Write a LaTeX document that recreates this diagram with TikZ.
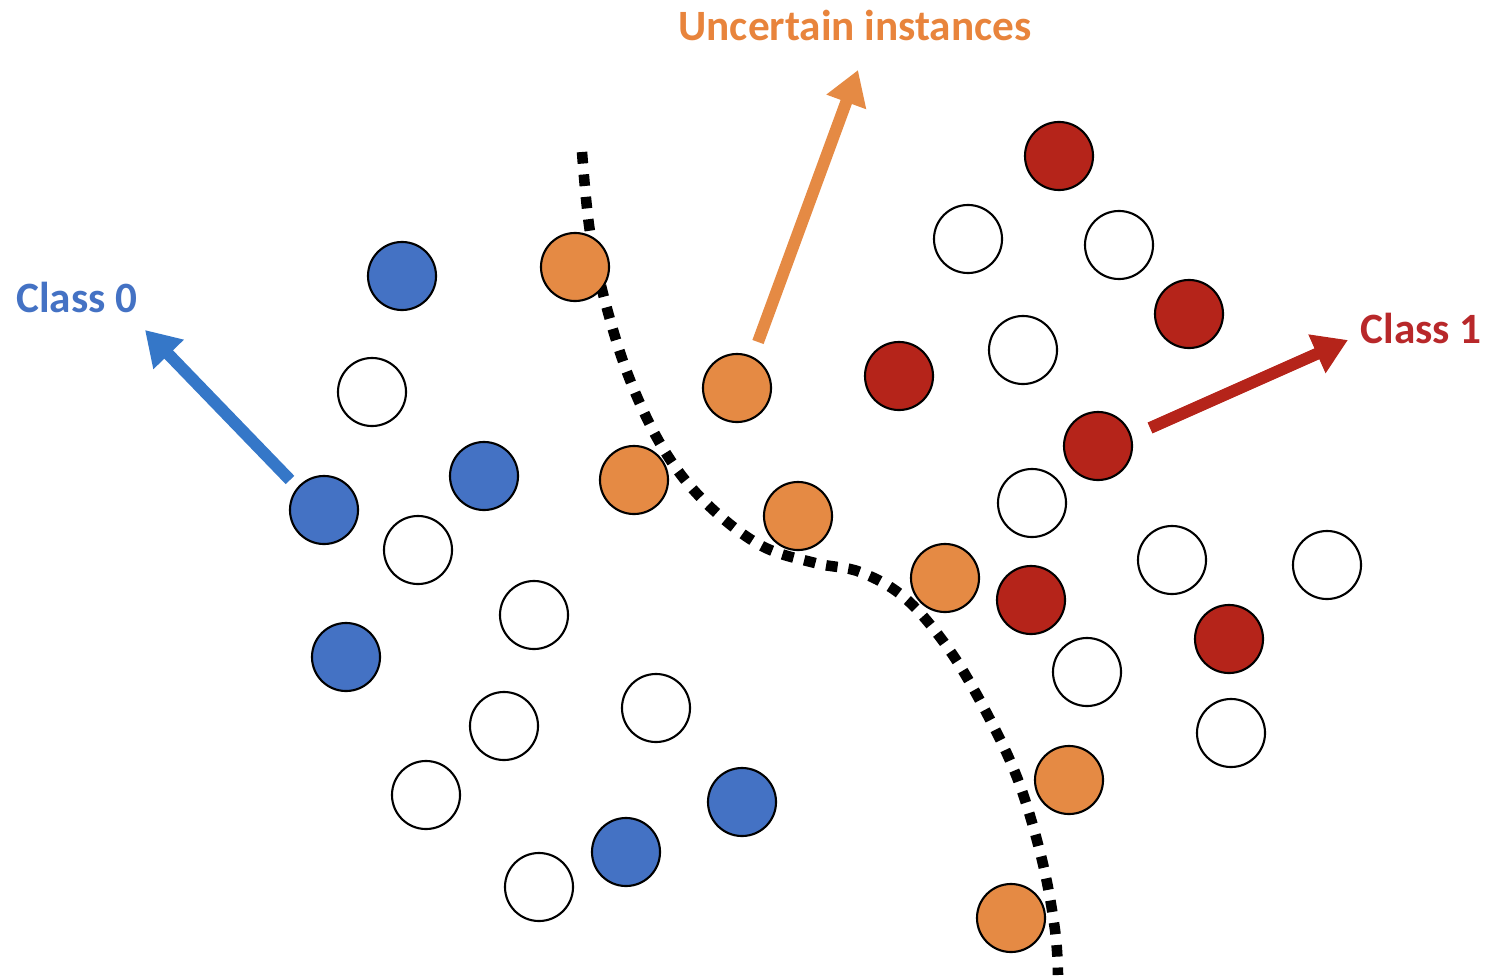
\documentclass[tikz,border=0pt]{standalone}
\usepackage{fontspec}
\setmainfont{Carlito}
\usetikzlibrary{arrows.meta}
\definecolor{cblue}{HTML}{4472C4}
\definecolor{cbluearrow}{HTML}{3577C8}
\definecolor{corange}{HTML}{E58A44}
\definecolor{corangetext}{HTML}{E8843C}
\definecolor{cred}{HTML}{B5241A}
\definecolor{credtext}{HTML}{B8282A}
\tikzset{
  pt/.style={circle, draw=black, line width=0.6pt, minimum size=0.68cm, inner sep=0pt},
  blue/.style={pt, fill=cblue},
  empty/.style={pt, fill=white},
  redpt/.style={pt, fill=cred},
  orangept/.style={pt, fill=corange},
  lbl/.style={font=\bfseries\fontsize{12.3}{14}\selectfont, inner sep=0pt},
  pointer/.style={line width=3.4pt, -{Triangle[length=0.34cm, width=0.4cm]}},
  boundary/.style={line width=3pt, dash pattern=on 3.3pt off 3.1pt}
}
\begin{document}
\begin{tikzpicture}[x=0.01cm, y=-0.01cm]
\useasboundingbox (0,0) rectangle (1491,979);

% decision boundary
\draw[boundary] plot[smooth, tension=0.6] coordinates {
  (582,152) (590,232) (606,305) (630,380) (664,450) (705,502) (760,545)
  (815,563) (860,572) (905,598) (948,648) (985,710) (1018,780) (1042,860) (1055,930) (1058,975)};

% class 0
\node[blue] (b1) at (402,276) {};
\node[blue] (b2) at (484,476) {};
\node[blue] (b3) at (324,510) {};
\node[blue] (b4) at (346,657) {};
\node[blue] (b5) at (742,802) {};
\node[blue] (b6) at (626,852) {};

% unlabelled
\node[empty] (w1) at (372,392) {};
\node[empty] (w2) at (418,550) {};
\node[empty] (w3) at (534,615) {};
\node[empty] (w4) at (504,726) {};
\node[empty] (w5) at (656,708) {};
\node[empty] (w6) at (426,795) {};
\node[empty] (w7) at (539,887) {};
\node[empty] (w8) at (968,239) {};
\node[empty] (w9) at (1119,245) {};
\node[empty] (w10) at (1023,350) {};
\node[empty] (w11) at (1032,503) {};
\node[empty] (w12) at (1172,560) {};
\node[empty] (w13) at (1327,565) {};
\node[empty] (w14) at (1087,672) {};
\node[empty] (w15) at (1231,733) {};

% class 1
\node[redpt] (r1) at (1059,156) {};
\node[redpt] (r2) at (1189,314) {};
\node[redpt] (r3) at (899,376) {};
\node[redpt] (r4) at (1098,446) {};
\node[redpt] (r5) at (1031,600) {};
\node[redpt] (r6) at (1229,639) {};

% uncertain
\node[orangept] (o1) at (575,267) {};
\node[orangept] (o2) at (737,388) {};
\node[orangept] (o3) at (634,480) {};
\node[orangept] (o4) at (798,516) {};
\node[orangept] (o5) at (945,578) {};
\node[orangept] (o6) at (1069,780) {};
\node[orangept] (o7) at (1011,918) {};

% labels
\node[lbl, text=cblue] (l0) at (77,297) {Class 0};
\node[lbl, text=corangetext] (lu) at (855,25) {Uncertain instances};
\node[lbl, text=credtext] (l1) at (1421,328) {Class 1};

% pointers
\coordinate (s0) at (290,480);
\coordinate (t0) at (145,330);
\coordinate (su) at (758,342);
\coordinate (tu) at (858,70);
\coordinate (s1) at (1150,428);
\coordinate (t1) at (1348,340);
\draw[pointer, cbluearrow] (s0) -- (t0);
\draw[pointer, corange] (su) -- (tu);
\draw[pointer, cred] (s1) -- (t1);
\end{tikzpicture}
\end{document}
